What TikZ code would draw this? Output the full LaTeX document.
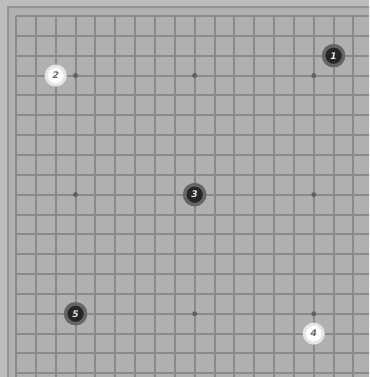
\documentclass[tikz,border=0pt]{standalone}
\usepackage{fontspec}
\setmainfont{DejaVu Sans}
\begin{document}
\begin{tikzpicture}[x=0.1cm,y=-0.1cm,
  gridline/.style={draw=black!46, line width=0.2cm},
  starpt/.style={circle, fill=black!62, inner sep=0pt, minimum size=0.5cm},
  blackstone/.style={circle, inner sep=0pt, minimum size=2.0cm, draw=black!60, line width=0.35cm, fill=black!85, text=white!80!gray, font=\fontsize{26}{26}\selectfont\bfseries\itshape},
  whitestone/.style={circle, inner sep=0pt, minimum size=1.9cm, draw=white!80!gray, line width=0.3cm, fill=white, text=black!60, font=\fontsize{26}{26}\selectfont\bfseries\itshape}]
\useasboundingbox (0,0) rectangle (369,377);
\fill[black!26] (0,0) rectangle (369,377);
\begin{scope}
\clip (0,0) rectangle (369,377);
\fill[black!31] (8,7) rectangle (380,390);
\draw[black!42, line width=0.25cm] (8,390) -- (8,7) -- (380,7);
\foreach \i in {0,...,18} {
  \draw[gridline] ({16+19.85*\i},16) -- ({16+19.85*\i},390);
  \draw[gridline] (16,{16+19.85*\i}) -- (390,{16+19.85*\i});
}
\end{scope}
\foreach \a in {3,9,15} \foreach \b in {3,9,15}
  \node[starpt] (s\a-\b) at ({16+19.85*\a},{16+19.85*\b}) {};
\node[blackstone] (b1) at ({16+19.85*16},{16+19.85*2}) {1};
\node[whitestone] (w2) at ({16+19.85*2},{16+19.85*3}) {2};
\node[blackstone] (b3) at ({16+19.85*9},{16+19.85*9}) {3};
\node[whitestone] (w4) at ({16+19.85*15},{16+19.85*16}) {4};
\node[blackstone] (b5) at ({16+19.85*3},{16+19.85*15}) {5};
\end{tikzpicture}
\end{document}
